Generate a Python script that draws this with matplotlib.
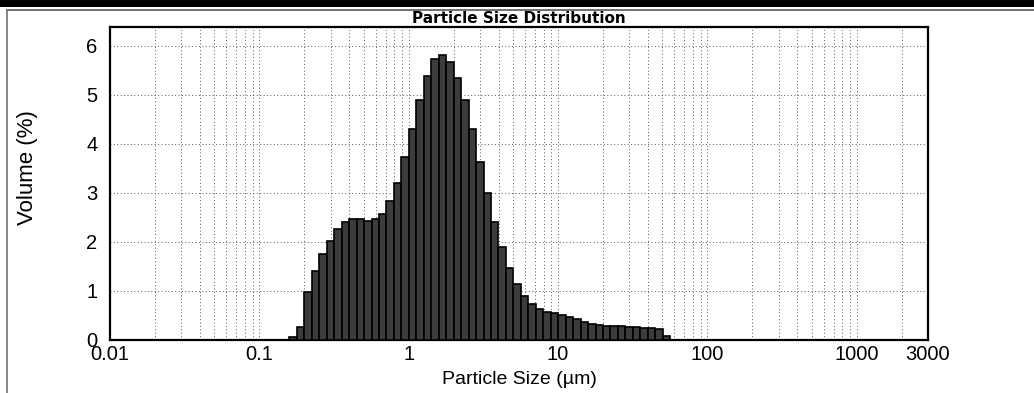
import numpy as np
import matplotlib
matplotlib.use("Agg")
import matplotlib.pyplot as plt
from matplotlib.patches import Rectangle
from matplotlib.lines import Line2D
from matplotlib.ticker import FixedLocator, FixedFormatter, LogLocator, NullFormatter

# Size class edges (um) of the laser diffraction bins that carry volume
size_edges = [0.159, 0.178, 0.200, 0.224, 0.252, 0.283, 0.317, 0.356, 0.399,
              0.448, 0.502, 0.564, 0.632, 0.710, 0.796, 0.893, 1.002, 1.125,
              1.262, 1.416, 1.589, 1.783, 2.000, 2.244, 2.518, 2.825, 3.170,
              3.557, 3.991, 4.477, 5.024, 5.637, 6.325, 7.096, 7.962, 8.934,
              10.024, 11.247, 12.619, 14.159, 15.887, 17.825, 20.000, 22.440,
              25.179, 28.251, 31.698, 35.566, 39.905, 44.774, 50.238, 56.368]

# Volume (%) in each size class
volume = [0.06, 0.25, 0.97, 1.41, 1.75, 2.02, 2.26, 2.40, 2.46, 2.46,
          2.43, 2.46, 2.57, 2.82, 3.20, 3.73, 4.30, 4.89, 5.39, 5.72,
          5.81, 5.67, 5.33, 4.89, 4.30, 3.63, 2.99, 2.41, 1.89, 1.46,
          1.13, 0.90, 0.72, 0.62, 0.57, 0.54, 0.50, 0.47, 0.42, 0.37,
          0.33, 0.29, 0.28, 0.28, 0.27, 0.25, 0.25, 0.23, 0.23, 0.22,
          0.07]

x_ticks = [0.01, 0.1, 1, 10, 100, 1000, 3000]
x_ticklabels = ["0.01", "0.1", "1", "10", "100", "1000", "3000"]
y_ticks = [0, 1, 2, 3, 4, 5, 6]

edges = np.array(size_edges)
left = edges[:-1]
width = np.diff(edges)

fig = plt.figure(figsize=(10.34, 3.93), dpi=100)
ax = fig.add_axes([0.1064, 0.1356, 0.7911, 0.7957])

ax.set_xscale("log")
ax.set_xlim(0.01, 3000)
ax.set_ylim(0, 6.38)

# dotted grid on every decade subdivision and every whole percent
ax.xaxis.set_minor_locator(LogLocator(base=10, subs=np.arange(2, 10)))
ax.xaxis.set_minor_formatter(NullFormatter())
ax.grid(True, which="both", axis="x", color="0.35", linestyle=(0, (1, 2.5)), linewidth=0.7)
ax.grid(True, which="major", axis="y", color="0.35", linestyle=(0, (1, 2.5)), linewidth=0.7)
ax.set_axisbelow(True)

ax.bar(left, volume, width=width, align="edge", color="#3c3c3c",
       edgecolor="black", linewidth=1.2, zorder=3)

ax.xaxis.set_major_locator(FixedLocator(x_ticks))
ax.xaxis.set_major_formatter(FixedFormatter(x_ticklabels))
ax.set_yticks(y_ticks)
ax.tick_params(axis="x", which="both", length=0, labelsize=14.5, pad=4)
ax.tick_params(axis="y", which="both", length=0, labelsize=14.5, pad=9)
for lab in ax.get_xticklabels() + ax.get_yticklabels():
    lab.set_family("Liberation Sans")

for side in ax.spines.values():
    side.set_linewidth(1.6)
    side.set_color("black")

ax.set_xlabel("Particle Size (µm)", fontsize=14, family="Liberation Sans", labelpad=5)
ax.set_ylabel("Volume (%)", fontsize=16, family="Liberation Sans")
ax.yaxis.set_label_coords(-0.088, 0.55)
ax.set_title("Particle Size Distribution", fontsize=11, fontweight="bold",
             family="DejaVu Sans", pad=3)

# page border around the printout
fig.patches.append(Rectangle((0, 1 - 7 / 393), 1, 7 / 393, transform=fig.transFigure,
                             facecolor="black", edgecolor="none"))
fig.lines.append(Line2D([7 / 1034, 1], [1 - 10 / 393, 1 - 10 / 393],
                        transform=fig.transFigure, color="0.35", linewidth=1.2))
fig.lines.append(Line2D([7 / 1034, 7 / 1034], [0, 1 - 10 / 393],
                        transform=fig.transFigure, color="0.45", linewidth=1.2))

fig.savefig("out.png", dpi=100)
